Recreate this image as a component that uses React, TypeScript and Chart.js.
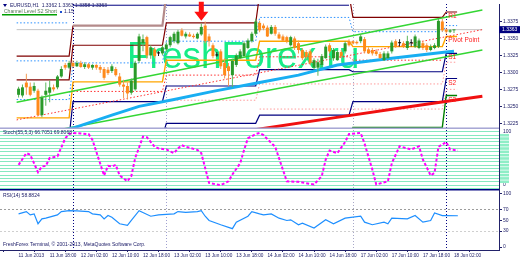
import React, { useEffect, useRef } from 'react';
import { Chart, registerables } from 'chart.js';

Chart.register(...registerables);

// ---------------- data ----------------
const OPEN = [
  1.3267, 1.3266, 1.3285, 1.3279, 1.3273, 1.3273, 1.3237, 1.3267, 1.3270, 1.3278,
  1.3278, 1.3294, 1.3311, 1.3307, 1.3314, 1.3309, 1.3314, 1.3308, 1.3312, 1.3307,
  1.3311, 1.3308, 1.3305, 1.3304, 1.3302, 1.3305, 1.3294, 1.3282, 1.3280, 1.3270,
  1.3275, 1.3317, 1.3343, 1.3352, 1.3325, 1.3334, 1.3328, 1.3328, 1.3334, 1.3340,
  1.3346, 1.3343, 1.3362, 1.3353, 1.3356, 1.3354, 1.3350, 1.3356, 1.3369, 1.3353,
  1.3340, 1.3325, 1.3331, 1.3314, 1.3309, 1.3296, 1.3311, 1.3321, 1.3324, 1.3336,
  1.3346, 1.3357, 1.3373, 1.3369, 1.3366, 1.3357, 1.3367, 1.3356, 1.3353, 1.3352,
  1.3340, 1.3350, 1.3343, 1.3333, 1.3330, 1.3331, 1.3307, 1.3307, 1.3311, 1.3321,
  1.3340, 1.3321, 1.3318, 1.3330, 1.3331, 1.3346, 1.3346, 1.3345, 1.3346, 1.3349,
  1.3334, 1.3333, 1.3331, 1.3327, 1.3318, 1.3321, 1.3331, 1.3346, 1.3343, 1.3343,
  1.3336, 1.3343, 1.3338, 1.3336, 1.3343, 1.3340, 1.3333, 1.3336, 1.3338, 1.3375,
  1.3363, 1.3360, 1.3362,
];
const HIGH = [
  1.3279, 1.3282, 1.3298, 1.3285, 1.3285, 1.3276, 1.3266, 1.3285, 1.3288, 1.3282,
  1.3296, 1.3309, 1.3314, 1.3317, 1.3318, 1.3317, 1.3317, 1.3315, 1.3314, 1.3312,
  1.3312, 1.3311, 1.3308, 1.3308, 1.3312, 1.3308, 1.3299, 1.3289, 1.3285, 1.3291,
  1.3317, 1.3357, 1.3356, 1.3354, 1.3340, 1.3337, 1.3331, 1.3340, 1.3344, 1.3354,
  1.3360, 1.3363, 1.3365, 1.3360, 1.3359, 1.3357, 1.3359, 1.3372, 1.3375, 1.3357,
  1.3343, 1.3330, 1.3334, 1.3321, 1.3314, 1.3320, 1.3328, 1.3334, 1.3346, 1.3350,
  1.3360, 1.3379, 1.3376, 1.3372, 1.3369, 1.3370, 1.3370, 1.3359, 1.3356, 1.3354,
  1.3354, 1.3353, 1.3347, 1.3336, 1.3333, 1.3334, 1.3321, 1.3320, 1.3327, 1.3341,
  1.3343, 1.3336, 1.3333, 1.3333, 1.3346, 1.3349, 1.3347, 1.3347, 1.3356, 1.3352,
  1.3337, 1.3336, 1.3334, 1.3330, 1.3331, 1.3331, 1.3347, 1.3349, 1.3349, 1.3346,
  1.3354, 1.3349, 1.3356, 1.3350, 1.3346, 1.3343, 1.3341, 1.3343, 1.3379, 1.3379,
  1.3365, 1.3364, 1.3363,
];
const LOW = [
  1.3263, 1.3263, 1.3267, 1.3265, 1.3270, 1.3236, 1.3234, 1.3251, 1.3256, 1.3272,
  1.3275, 1.3292, 1.3304, 1.3305, 1.3307, 1.3308, 1.3307, 1.3305, 1.3305, 1.3304,
  1.3304, 1.3299, 1.3289, 1.3296, 1.3299, 1.3294, 1.3279, 1.3262, 1.3260, 1.3267,
  1.3273, 1.3314, 1.3331, 1.3320, 1.3320, 1.3321, 1.3324, 1.3325, 1.3331, 1.3337,
  1.3343, 1.3341, 1.3353, 1.3350, 1.3352, 1.3350, 1.3349, 1.3354, 1.3343, 1.3338,
  1.3321, 1.3323, 1.3305, 1.3291, 1.3280, 1.3278, 1.3308, 1.3320, 1.3323, 1.3334,
  1.3344, 1.3354, 1.3359, 1.3362, 1.3352, 1.3356, 1.3354, 1.3349, 1.3346, 1.3343,
  1.3338, 1.3333, 1.3328, 1.3318, 1.3320, 1.3311, 1.3304, 1.3295, 1.3308, 1.3320,
  1.3328, 1.3317, 1.3317, 1.3321, 1.3328, 1.3338, 1.3341, 1.3341, 1.3343, 1.3328,
  1.3327, 1.3325, 1.3324, 1.3320, 1.3317, 1.3320, 1.3328, 1.3336, 1.3338, 1.3336,
  1.3333, 1.3338, 1.3336, 1.3334, 1.3333, 1.3330, 1.3331, 1.3334, 1.3336, 1.3360,
  1.3357, 1.3358, 1.3358,
];
const CLOSE = [
  1.3276, 1.3278, 1.3278, 1.3267, 1.3280, 1.3237, 1.3263, 1.3273, 1.3278, 1.3275,
  1.3294, 1.3305, 1.3307, 1.3314, 1.3309, 1.3314, 1.3308, 1.3312, 1.3307, 1.3311,
  1.3307, 1.3304, 1.3292, 1.3299, 1.3309, 1.3296, 1.3282, 1.3279, 1.3269, 1.3288,
  1.3314, 1.3353, 1.3349, 1.3325, 1.3337, 1.3324, 1.3328, 1.3337, 1.3341, 1.3352,
  1.3357, 1.3360, 1.3354, 1.3357, 1.3353, 1.3352, 1.3357, 1.3367, 1.3346, 1.3346,
  1.3324, 1.3325, 1.3309, 1.3296, 1.3302, 1.3317, 1.3325, 1.3331, 1.3343, 1.3347,
  1.3357, 1.3375, 1.3362, 1.3365, 1.3353, 1.3367, 1.3357, 1.3350, 1.3347, 1.3346,
  1.3352, 1.3336, 1.3333, 1.3321, 1.3323, 1.3314, 1.3318, 1.3315, 1.3324, 1.3338,
  1.3331, 1.3333, 1.3330, 1.3324, 1.3343, 1.3340, 1.3343, 1.3343, 1.3353, 1.3331,
  1.3328, 1.3328, 1.3327, 1.3321, 1.3328, 1.3328, 1.3344, 1.3338, 1.3343, 1.3338,
  1.3346, 1.3343, 1.3353, 1.3347, 1.3336, 1.3333, 1.3338, 1.3340, 1.3376, 1.3362,
  1.3360, 1.3362, 1.3363,
];

const TIME_BARS = [0, 8, 16, 24, 32, 40, 48, 56, 64, 72, 80, 88, 96, 104, 112];
const TIME_LABELS = [
  '11 Jun 2013', '11 Jun 18:00', '12 Jun 02:00', '12 Jun 10:00', '12 Jun 18:00',
  '13 Jun 02:00', '13 Jun 10:00', '13 Jun 18:00', '14 Jun 02:00', '14 Jun 10:00',
  '14 Jun 18:00', '17 Jun 02:00', '17 Jun 10:00', '17 Jun 18:00', '18 Jun 02:00',
];
const PRICE_TICKS = [1.3375, 1.335, 1.3325, 1.33, 1.3275, 1.325, 1.3225];
const STOCH_LEVELS = [-6.25, 0, 6.25, 12.5, 18.75, 25, 31.25, 37.5, 43.75, 50, 56.25, 62.5, 68.75, 75, 81.25, 87.5, 93.75, 100];
const RSI_TICKS = [0, 30, 50, 70, 100];

// daily pivot sessions (bar index ranges)
const SESSION_START = [-0.5, 14, 38, 62, 86, 110];
const SESSION_END = [13, 37, 61, 85, 109, 112.8];
const R1_LEVEL = [1.3289, 1.3340, 1.3373, 1.3415, 1.3381, 1.3389];
const R2_LEVEL = [1.3324, 1.3369, 1.3415, null, null, null];
const TOP_LEVEL = [null, 1.3399, 1.3399, 1.3399, null, null];
const MID_R = [1.3260, 1.3314, 1.3346, 1.3381, 1.3360, 1.3369];
const MID_R_HIGH = [1.3373, null, null, null, null, null];
const MID_R_LOW = [1.3317, null, null, null, null, null];
const PIVOT = [1.3233, 1.3286, 1.3318, 1.3346, 1.3338, 1.3353];
const MID_S = [null, 1.3272, 1.3296, 1.3323, 1.3318, null];
const S1_LEVEL = [1.3205, 1.3257, 1.3280, 1.3304, 1.3301, 1.3328];
const MID_S12 = [null, null, 1.3259, 1.3283, 1.3283, 1.3315];
const S2_LEVEL = [null, 1.3205, 1.3225, 1.3237, 1.3257, 1.3291];
const MID_S23 = [null, null, null, 1.3246, 1.3246, 1.3275];
const S3_LEVEL = [null, null, null, 1.3205, 1.3219, 1.3266];
const LEVEL_LABELS = ['R1', 'Pivot Point', 'S1', 'S2', 'S3'];

// channel
const CHANNEL_UPPER_BARS = [-0.5, 119.3];
const CHANNEL_UPPER = [1.3256, 1.3392];
const CHANNEL_LOWER_BARS = [9, 119.3];
const CHANNEL_LOWER = [1.3214, 1.3333];
const CHANNEL_MID_BARS = [-0.5, 119.3];
const CHANNEL_MID = [1.3230, 1.3363];

// moving averages
const MA_BLUE_BARS = [9, 14, 24, 31, 40, 50, 62, 72, 82, 96, 110, 112];
const MA_BLUE = [1.3211, 1.3218, 1.3237, 1.3250, 1.3260, 1.3272, 1.3285, 1.3296, 1.3311, 1.3321, 1.3330, 1.3331];
const MA_RED_BARS = [59, 81, 100, 112, 119.3];
const MA_RED = [1.3214, 1.3233, 1.3249, 1.3259, 1.3265];

// stochastic (55,5,3)
const STOCH_BARS = [0, 2, 3, 5, 6, 7, 8, 10, 12, 13, 14, 18, 19, 22, 23, 24, 25, 26, 28, 29, 30, 32, 33, 35, 36, 38, 40, 41, 42, 43, 46, 47, 49, 51, 52, 54, 55, 57, 58, 59, 61, 62, 63, 66, 69, 72, 76, 78, 79, 80, 82, 84, 85, 88, 89, 91, 92, 95, 96, 98, 100, 101, 103, 104, 106, 107, 108, 110, 111, 113];
const STOCH_VALUES = [38, 60, 57, 24, 35, 36, 51, 54, 88, 96, 98, 96, 85, 18, 36, 35, 38, 18, 7, 17, 51, 91, 90, 72, 69, 67, 60, 69, 75, 72, 66, 60, 4, 1, 0, 7, 20, 41, 66, 88, 96, 98, 94, 72, 7, 6, 1, 17, 48, 65, 60, 81, 96, 98, 78, 29, 1, 7, 41, 73, 69, 67, 73, 48, 18, 23, 72, 81, 67, 65];

// RSI(14)
const RSI_BARS = [0, 2, 3, 4, 5, 6, 7, 10, 11, 13, 15, 18, 19, 21, 22, 23, 24, 26, 28, 29, 31, 34, 36, 40, 41, 43, 46, 47, 48, 49, 52, 55, 56, 59, 60, 62, 63, 65, 67, 69, 70, 72, 73, 76, 79, 81, 84, 88, 89, 91, 94, 95, 96, 100, 102, 104, 106, 107, 109, 110, 113];
const RSI_VALUES = [62.4, 66.7, 60.6, 62.4, 43.9, 53, 54.3, 60.6, 66.7, 68.5, 68, 66.7, 62.4, 60.6, 53, 59.3, 56, 43.9, 40.7, 50, 68.5, 58, 60.6, 62.4, 66.7, 65.4, 66.7, 68.5, 58, 50, 42, 34.6, 46.9, 58, 66.7, 62.4, 60.6, 62.4, 54.3, 50, 51.3, 42, 45, 35.7, 51.3, 43.9, 54.3, 58, 46.9, 42, 46.9, 43.9, 54.3, 53, 59.3, 46.9, 50, 64.3, 59.3, 59.3, 58.9];

const CURRENT_PRICE = 1.3363;
const ARROW_BAR = 47;
const ARROW_PRICE = 1.3376;
const SEPARATOR_BARS = [14, 38, 86, 110];

const HEADER = 'EURUSD,H1  1.3362 1.3363 1.3358 1.3363';
const CHANNEL_TEXT = 'Channel Level S2 Short';
const CHANNEL_VALUE = '1.15';
const STOCH_TITLE = 'Stoch(55,5,3) 66.7051 69.8068';
const RSI_TITLE = 'RSI(14) 58.8824';
const FOOTER = 'FreshForex Terminal, \u00A9 2001-2013, MetaQuotes Software Corp.';
const WATERMARK = 'FreshForex.ru';

// ---------------- layout / style ----------------
const X_MIN = -0.5;
const X_MAX = 119.3;
const Y_MAX = 1.34008;
const Y_MIN = 1.321665;
const FONT = '"Liberation Sans", Arial, sans-serif';
const AXIS_COLOR = '#22226a';
const SEP_COLORS = ['#000080', '#a0a0d0', '#a8a8c8', '#000080'];

function txt(ctx, s, x, y, color, size, baseline = 'middle', align = 'left') {
  ctx.font = `${size}px ${FONT}`;
  ctx.fillStyle = color;
  ctx.textBaseline = baseline;
  ctx.textAlign = align;
  ctx.fillText(s, x, y);
}

const decorPlugin = {
  id: 'mt4Decor',
  beforeDatasetsDraw(chart) {
    const { ctx, chartArea } = chart;
    const xs = chart.scales.x;
    const ym = chart.scales.y;
    ctx.save();
    ctx.beginPath();
    ctx.rect(chartArea.left, ym.top, chartArea.right - chartArea.left, ym.bottom - ym.top);
    ctx.clip();
    ctx.font = `37px ${FONT}`;
    ctx.fillStyle = '#17ec86';
    ctx.textBaseline = 'alphabetic';
    ctx.textAlign = 'left';
    ctx.fillText(WATERMARK, 127, 68);
    ctx.restore();

    ctx.save();
    ctx.lineWidth = 1;
    ctx.setLineDash([1, 2]);
    SEPARATOR_BARS.forEach((b, i) => {
      const px = Math.round(xs.getPixelForValue(b)) + 0.5;
      ctx.strokeStyle = SEP_COLORS[i];
      ctx.beginPath();
      ctx.moveTo(px, chartArea.top);
      ctx.lineTo(px, chartArea.bottom);
      ctx.stroke();
    });
    ctx.restore();
  },
  afterDatasetsDraw(chart) {
    const { ctx } = chart;
    const xs = chart.scales.x;
    const ym = chart.scales.y;
    const ys = chart.scales.yS;
    const yr = chart.scales.yR;
    ctx.save();
    // arrow
    const ax = xs.getPixelForValue(ARROW_BAR);
    const ay = ym.getPixelForValue(ARROW_PRICE);
    ctx.fillStyle = '#ff1010';
    ctx.beginPath();
    ctx.moveTo(ax - 2.5, ay - 19);
    ctx.lineTo(ax + 2.5, ay - 19);
    ctx.lineTo(ax + 2.5, ay - 9);
    ctx.lineTo(ax + 7, ay - 9);
    ctx.lineTo(ax, ay);
    ctx.lineTo(ax - 7, ay - 9);
    ctx.lineTo(ax - 2.5, ay - 9);
    ctx.closePath();
    ctx.fill();

    // pivot labels (last session)
    const last = SESSION_START.length - 1;
    const lvls = [R1_LEVEL[last], PIVOT[last], S1_LEVEL[last], S2_LEVEL[last], S3_LEVEL[last]];
    const lx = xs.getPixelForValue(SESSION_START[last]) + 2;
    lvls.forEach((v, i) => {
      txt(ctx, LEVEL_LABELS[i], lx, ym.getPixelForValue(v) + 1, '#ff2020', 6.5, 'top');
    });

    // header
    ctx.fillStyle = '#000080';
    ctx.beginPath();
    ctx.moveTo(3, 4);
    ctx.lineTo(7, 4);
    ctx.lineTo(5, 7);
    ctx.closePath();
    ctx.fill();
    txt(ctx, HEADER, 10, 5.5, '#20206a', 5);
    txt(ctx, CHANNEL_TEXT, 4, 12, '#557755', 5);
    ctx.fillStyle = '#00a000';
    ctx.fillRect(2, 14, 55, 1.5);
    ctx.fillStyle = '#1e50d0';
    ctx.fillRect(60, 11, 2, 2);
    txt(ctx, CHANNEL_VALUE, 64, 12, '#20206a', 5);

    txt(ctx, STOCH_TITLE, 3, ys.top + 4, '#20206a', 5);
    txt(ctx, RSI_TITLE, 3, yr.top + 5.5, '#20206a', 5);
    txt(ctx, FOOTER, 3, yr.bottom - 5.5, '#20206a', 5);
    ctx.restore();
  },
  afterDraw(chart) {
    const { ctx, chartArea } = chart;
    const ym = chart.scales.y;
    const ys = chart.scales.yS;
    const yr = chart.scales.yR;
    ctx.save();
    const w = chartArea.right - chartArea.left;
    ctx.fillStyle = '#a6a6d4';
    ctx.fillRect(chartArea.left, ys.top - 1.5, w, 1.5);
    ctx.fillStyle = '#000080';
    ctx.fillRect(chartArea.left, yr.top - 1, w, 1.5);

    // stochastic level label boxes
    ctx.fillStyle = '#8eeec6';
    STOCH_LEVELS.forEach((v) => {
      if (v > 0 && v < 100) {
        const py = ys.getPixelForValue(v);
        ctx.fillRect(ys.left + 1, py - 1.3, 9, 2.6);
      }
    });

    // current price box
    const py = ym.getPixelForValue(CURRENT_PRICE);
    ctx.fillStyle = '#000080';
    ctx.fillRect(ym.left, py - 3.5, 21, 7);
    txt(ctx, CURRENT_PRICE.toFixed(4), ym.left + 3, py, '#ffffff', 5);
    ctx.restore();
  },
};

export default function App() {
  const ref = useRef(null);

  useEffect(() => {
    document.body.style.margin = '0';
    const canvas = ref.current;
    const idx = OPEN.map((_, i) => i);
    const doji = idx.map((i) => CLOSE[i] === OPEN[i]);
    const bull = idx.map((i) => CLOSE[i] > OPEN[i]);
    const bodyColors = idx.map((i) => (doji[i] ? '#000000' : bull[i] ? '#2a9a2a' : '#ff8a1a'));
    const wickColors = idx.map((i) => (doji[i] ? '#222222' : bull[i] ? '#5cb85c' : '#f29a55'));

    const pts = (xs, ys) => xs.map((x, i) => ({ x, y: ys[i] }));
    const sessionPts = (lv) => {
      const out = [];
      lv.forEach((v, i) => {
        if (v === null) {
          out.push({ x: SESSION_START[i], y: null });
        } else {
          out.push({ x: SESSION_START[i], y: v }, { x: SESSION_END[i], y: v });
        }
      });
      return out;
    };
    const line = (label, data, color, width, dash, extra = {}) => ({
      type: 'line',
      label,
      data,
      borderColor: color,
      borderWidth: width,
      borderDash: dash,
      pointRadius: 0,
      fill: false,
      tension: 0,
      spanGaps: false,
      yAxisID: 'y',
      order: 6,
      ...extra,
    });

    const datasets = [
      {
        type: 'bar',
        label: 'body',
        data: idx.map((i) => ({ x: i, y: [OPEN[i], CLOSE[i]] })),
        backgroundColor: bodyColors,
        borderWidth: 0,
        barThickness: 3,
        minBarLength: 1,
        grouped: false,
        inflateAmount: 0,
        yAxisID: 'y',
        order: 0,
      },
      {
        type: 'bar',
        label: 'wick',
        data: idx.map((i) => ({ x: i, y: [LOW[i], HIGH[i]] })),
        backgroundColor: wickColors,
        borderWidth: 0,
        barThickness: 1,
        grouped: false,
        inflateAmount: 0,
        yAxisID: 'y',
        order: 1,
      },
      line('Stoch', pts(STOCH_BARS, STOCH_VALUES), '#ff00ff', 2, [3, 2], { yAxisID: 'yS', order: 2 }),
      line('RSI', pts(RSI_BARS, RSI_VALUES), '#1e8fff', 1.2, [], { yAxisID: 'yR', order: 2 }),
      line('MA fast', pts(MA_BLUE_BARS, MA_BLUE), '#18aef2', 3, [], { order: 3 }),
      line('MA slow', pts(MA_RED_BARS, MA_RED), '#f01010', 3, [], { order: 3 }),
      line('Channel upper', pts(CHANNEL_UPPER_BARS, CHANNEL_UPPER), '#33d633', 1.5, [], { order: 4 }),
      line('Channel lower', pts(CHANNEL_LOWER_BARS, CHANNEL_LOWER), '#33d633', 1.5, [], { order: 4 }),
      line('Channel mid', pts(CHANNEL_MID_BARS, CHANNEL_MID), '#ff3030', 1, [1.5, 2], { order: 4 }),
      line('R1', sessionPts(R1_LEVEL), '#800000', 1.2, []),
      line('R2', sessionPts(R2_LEVEL), '#800000', 1.2, [], {
        segment: {
          borderColor: (c) => (c.p0.parsed.x < 13.5 ? '#800000' : '#b48a8a'),
          borderWidth: (c) => (c.p0.parsed.x < 13.5 ? 1.2 : 2.2),
        },
      }),
      line('Top', sessionPts(TOP_LEVEL), '#000080', 1, []),
      line('Mid R', sessionPts(MID_R), '#2a90ff', 1, [1.5, 2]),
      line('Mid R high', sessionPts(MID_R_HIGH), '#2a90ff', 1, [1.5, 2]),
      line('Mid R low', sessionPts(MID_R_LOW), '#2a90ff', 1, [1.5, 2]),
      line('Pivot', sessionPts(PIVOT), '#ffa500', 1.4, []),
      line('Mid S', sessionPts(MID_S), '#ff3030', 1, [1.5, 2]),
      line('S1', sessionPts(S1_LEVEL), '#000080', 1.2, []),
      line('Mid S12', sessionPts(MID_S12), '#ff9a9a', 1, [1.5, 2]),
      line('S2', sessionPts(S2_LEVEL), '#000080', 1.2, []),
      line('Mid S23', sessionPts(MID_S23), '#ff9a9a', 1, [1.5, 2]),
      line('S3', sessionPts(S3_LEVEL), '#008000', 1.4, []),
      line('Price', pts([X_MIN, X_MAX], [CURRENT_PRICE, CURRENT_PRICE]), '#c4c4c4', 1, [], { order: 7 }),
    ];

    const tickFont = { family: FONT, size: 5 };
    const chart = new Chart(canvas, {
      type: 'line',
      data: { datasets },
      plugins: [decorPlugin],
      options: {
        animation: false,
        responsive: false,
        devicePixelRatio: 1,
        events: [],
        layout: { padding: 0 },
        plugins: { legend: { display: false }, tooltip: { enabled: false } },
        scales: {
          x: {
            type: 'linear',
            position: 'bottom',
            min: X_MIN,
            max: X_MAX,
            afterBuildTicks: (s) => {
              s.ticks = TIME_BARS.map((v) => ({ value: v }));
            },
            afterFit: (s) => {
              s.height = 10;
            },
            ticks: {
              autoSkip: false,
              maxRotation: 0,
              minRotation: 0,
              align: 'start',
              padding: 1,
              color: AXIS_COLOR,
              font: { family: FONT, size: 4.7 },
              callback: (_v, i) => TIME_LABELS[i],
            },
            grid: { drawOnChartArea: false, tickLength: 2, tickColor: AXIS_COLOR },
            border: { color: AXIS_COLOR, width: 1 },
          },
          y: {
            type: 'linear',
            position: 'right',
            stack: 'panes',
            stackWeight: 127,
            min: Y_MIN,
            max: Y_MAX,
            afterBuildTicks: (s) => {
              s.ticks = PRICE_TICKS.map((v) => ({ value: v }));
            },
            afterFit: (s) => {
              s.width = 21;
            },
            ticks: {
              autoSkip: false,
              padding: 1,
              color: AXIS_COLOR,
              font: tickFont,
              callback: (v) => Number(v).toFixed(4),
            },
            grid: { drawOnChartArea: false, tickLength: 3, tickColor: AXIS_COLOR },
            border: { color: AXIS_COLOR, width: 1 },
          },
          yS: {
            type: 'linear',
            position: 'right',
            stack: 'panes',
            stackWeight: 62,
            min: -9.26,
            max: 105.56,
            afterBuildTicks: (s) => {
              s.ticks = STOCH_LEVELS.map((v) => ({ value: v }));
            },
            afterFit: (s) => {
              s.width = 21;
            },
            ticks: {
              autoSkip: false,
              padding: 1,
              color: AXIS_COLOR,
              font: tickFont,
              callback: (v) => (v === 100 || v === 0 ? String(v) : ''),
            },
            grid: { drawOnChartArea: true, color: '#86e8c0', lineWidth: 1, tickLength: 3, tickColor: 'rgba(0,0,0,0)' },
            border: { color: AXIS_COLOR, width: 1 },
          },
          yR: {
            type: 'linear',
            position: 'right',
            stack: 'panes',
            stackWeight: 61,
            min: -5.56,
            max: 107.41,
            afterBuildTicks: (s) => {
              s.ticks = RSI_TICKS.map((v) => ({ value: v }));
            },
            afterFit: (s) => {
              s.width = 21;
            },
            ticks: {
              autoSkip: false,
              padding: 1,
              color: AXIS_COLOR,
              font: tickFont,
              callback: (v) => String(v),
            },
            grid: {
              drawOnChartArea: true,
              color: (c) => (c.tick && c.tick.value === 70 ? '#9c9c9c' : c.tick && c.tick.value === 30 ? '#cfcfcf' : 'rgba(0,0,0,0)'),
              lineWidth: 1,
              tickLength: 3,
              tickColor: AXIS_COLOR,
            },
            border: { color: AXIS_COLOR, width: 1, dash: [2, 2] },
          },
        },
      },
    });
    return () => chart.destroy();
  }, []);

  return (
    <div style={{ position: 'fixed', left: 0, top: 0, width: 520, height: 260, background: '#ffffff' }}>
      <canvas ref={ref} width={520} height={260} style={{ display: 'block', width: 520, height: 260 }} />
    </div>
  );
}
